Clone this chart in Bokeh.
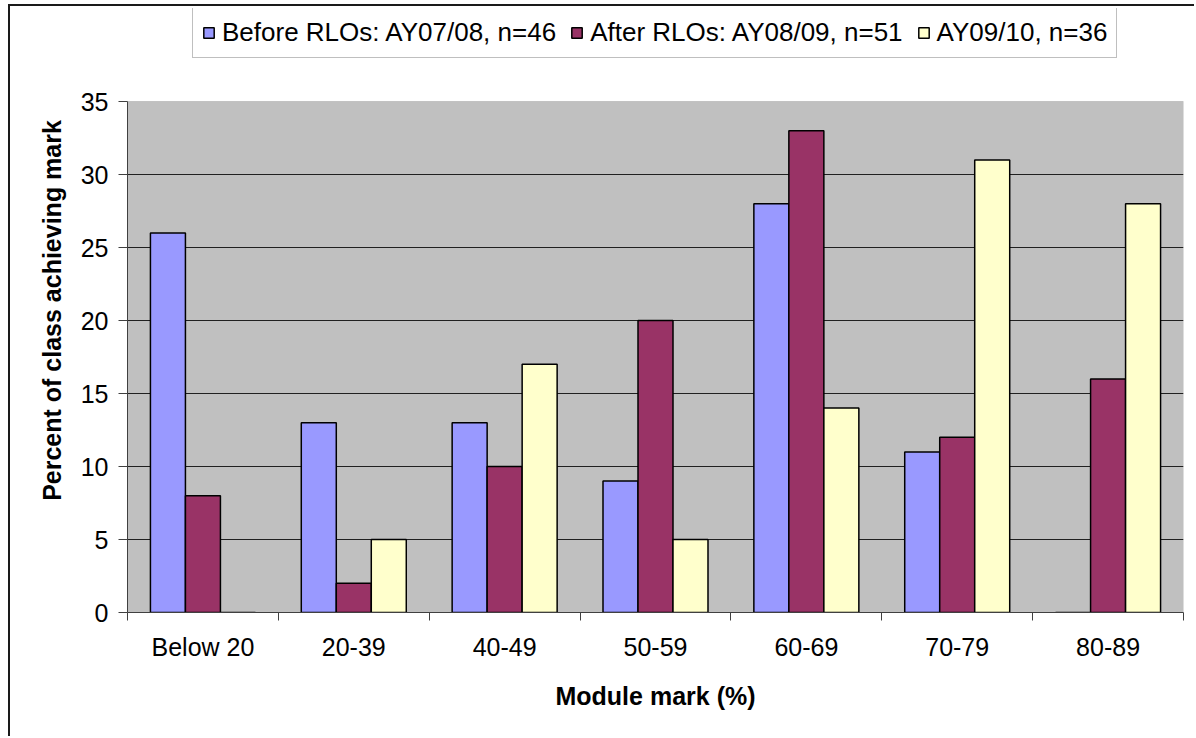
from bokeh.plotting import figure
from bokeh.models import FixedTicker, Legend, LegendItem, ColumnDataSource, Range1d, BoxAnnotation
from bokeh.transform import dodge
from bokeh.embed import file_html
from bokeh.resources import INLINE

categories = ["Below 20", "20-39", "40-49", "50-59", "60-69", "70-79", "80-89"]
before_rlos = [26, 13, 13, 9, 28, 11, 0]
after_rlos = [8, 2, 10, 20, 33, 12, 16]
ay0910 = [0, 5, 17, 5, 14, 31, 28]
series_names = ["Before RLOs: AY07/08, n=46", "After RLOs: AY08/09, n=51", "AY09/10, n=36"]
colors = ["#9999FF", "#993366", "#FFFFCC"]
y_ticks = [0, 5, 10, 15, 20, 25, 30, 35]

# layout (page pixels)
fig_left, fig_top = 10, 6
frame_top_px, plot_top_px, plot_bottom_px = 8, 101, 612
y_max = y_ticks[-1]
y_top = y_max * (plot_bottom_px - frame_top_px) / (plot_bottom_px - plot_top_px)

idx = list(range(len(categories)))
src = ColumnDataSource(dict(x=idx, a=before_rlos, b=after_rlos, c=ay0910))

p = figure(width=1186, height=732, output_backend="svg", toolbar_location=None,
           x_range=Range1d(-0.5, len(categories) - 0.5), y_range=Range1d(0, y_top),
           min_border_left=117, min_border_right=13, min_border_top=frame_top_px - fig_top,
           min_border_bottom=126,
           background_fill_color="white", border_fill_color="white",
           styles={"margin-left": "8px", "margin-top": "4px",
                   "border-left": "2px solid #1a1a1a", "border-top": "2px solid #1a1a1a"})
p.outline_line_color = None

# grey plot area
p.add_layout(BoxAnnotation(bottom=0, top=y_max, fill_color="#C0C0C0", fill_alpha=1.0,
                           line_color="#808080", line_width=1, level="image"))

bw = 0.232
renderers = []
for col, off, color in zip(["a", "b", "c"], [-bw, 0, bw], colors):
    r = p.vbar(x=dodge("x", off, range=p.x_range), top=col, width=bw, source=src,
               fill_color=color, line_color="black", line_width=1.5)
    renderers.append(r)

# axes
p.xgrid.visible = False
p.ygrid.ticker = FixedTicker(ticks=y_ticks[1:-1])
p.ygrid.grid_line_color = "#202020"
p.ygrid.grid_line_width = 1

p.yaxis.ticker = FixedTicker(ticks=y_ticks)
p.yaxis.bounds = (0, y_max)
p.yaxis.major_tick_out = 9
p.yaxis.major_tick_in = 0
p.yaxis.minor_tick_line_color = None
p.yaxis.axis_line_color = "#404040"
p.yaxis.major_tick_line_color = "#404040"
p.yaxis.major_label_text_font = "Liberation Sans"
p.yaxis.major_label_text_font_size = "25px"
p.yaxis.major_label_text_color = "black"
p.yaxis.major_label_standoff = 10
p.yaxis.axis_label = "Percent of class achieving mark"
p.yaxis.axis_label_text_font = "Liberation Sans"
p.yaxis.axis_label_text_font_style = "bold"
p.yaxis.axis_label_text_font_size = "25px"
p.yaxis.axis_label_text_color = "black"
p.yaxis.axis_label_standoff = 12

boundaries = [i - 0.5 for i in range(len(categories) + 1)]
p.xaxis.ticker = FixedTicker(ticks=idx, minor_ticks=boundaries)
p.xaxis.major_label_overrides = {i: c for i, c in enumerate(categories)}
p.xaxis.major_tick_line_color = None
p.xaxis.major_tick_out = 0
p.xaxis.major_tick_in = 0
p.xaxis.minor_tick_out = 8
p.xaxis.minor_tick_in = 0
p.xaxis.minor_tick_line_color = "#404040"
p.xaxis.axis_line_color = "#404040"
p.xaxis.major_label_text_font = "Liberation Sans"
p.xaxis.major_label_text_font_size = "25px"
p.xaxis.major_label_text_color = "black"
p.xaxis.major_label_standoff = 12
p.xaxis.axis_label = "Module mark (%)"
p.xaxis.axis_label_text_font = "Liberation Sans"
p.xaxis.axis_label_text_font_style = "bold"
p.xaxis.axis_label_text_font_size = "25px"
p.xaxis.axis_label_text_color = "black"
p.xaxis.axis_label_standoff = 18

legend = Legend(items=[LegendItem(label=n, renderers=[r]) for n, r in zip(series_names, renderers)],
                orientation="horizontal", location=(192 - 127, plot_bottom_px - 58),
                label_text_font="Liberation Sans", label_text_font_size="26px",
                label_text_color="black",
                glyph_width=13, glyph_height=13, label_standoff=7, spacing=14,
                padding=9, margin=0, border_line_color="#808080", border_line_width=1.5,
                background_fill_color="white", background_fill_alpha=1.0)
p.add_layout(legend, "center")

open("out.html", "w").write(file_html(p, INLINE))
